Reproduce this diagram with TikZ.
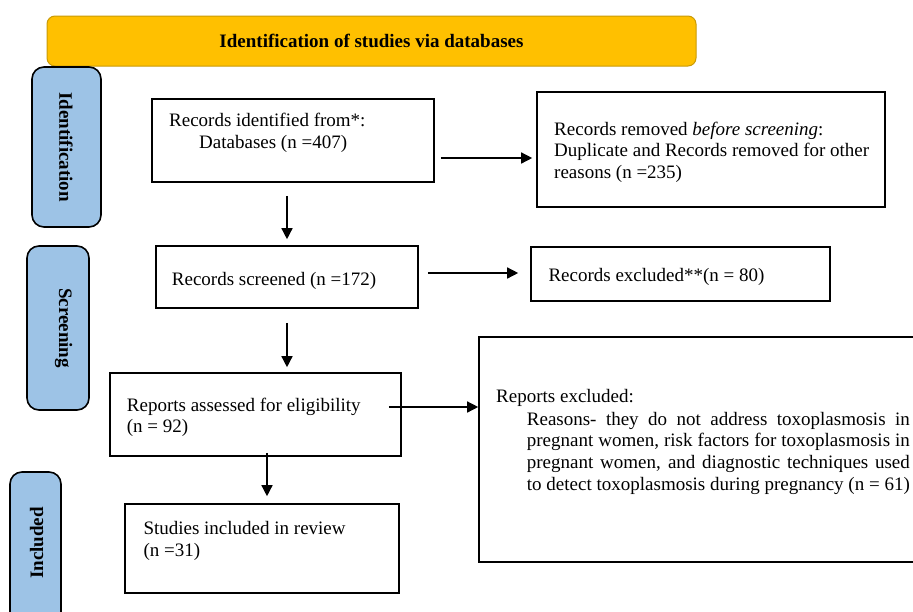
\documentclass[tikz,border=0pt]{standalone}
\usepackage{fontspec}
\setmainfont{Liberation Serif}
\usetikzlibrary{arrows.meta,calc}
\definecolor{gold}{HTML}{FFC000}
\definecolor{goldline}{HTML}{C99A06}
\definecolor{sideblue}{HTML}{9DC3E6}
\begin{document}
\begin{tikzpicture}[x=1pt,y=-1pt,
  font=\fontsize{19}{21.7}\selectfont,
  box/.style={draw=black, line width=1.6pt, fill=white, rectangle, inner sep=0pt},
  side/.style={draw=black, line width=1.6pt, fill=sideblue, rounded corners=12pt, inner sep=0pt},
  sidelbl/.style={inner sep=0pt, font=\fontsize{19}{21.7}\selectfont\bfseries},
  lbl/.style={inner sep=0pt, anchor=base west},
  arr/.style={line width=1.4pt, -{Triangle[length=11pt,width=11pt]}}
]
\useasboundingbox (0,0) rectangle (913,611);
\clip (0,0) rectangle (913,611);

% banner
\node[draw=goldline, line width=1pt, fill=gold, rounded corners=8pt, inner sep=0pt,
      minimum width=649pt, minimum height=50pt,
      font=\fontsize{19}{21.7}\selectfont\bfseries] (banner) at (371.5,41)
      {Identification of studies via databases};

% side tabs
\node[side, minimum width=69pt, minimum height=160pt] (sideI) at (66.5,147) {};
\node[sidelbl, rotate=-90] (sideIt) at (66,147) {Identification};
\node[side, minimum width=62pt, minimum height=164pt] (sideS) at (58,328) {};
\node[sidelbl, rotate=-90] (sideSt) at (63.5,328) {Screening};
\node[side, minimum width=51pt, minimum height=170pt] (sideN) at (35.5,557) {};
\node[sidelbl, rotate=90] (sideNt) at (36.7,543) {Included};

% boxes
\node[box, minimum width=282pt, minimum height=83pt] (b1) at (293,140.5) {};
\node[lbl] (b1t) at (169,126.7) {\parbox[t]{270pt}{Records identified from*:\\\hspace*{30pt}Databases (n =407)}};

\node[box, minimum width=348pt, minimum height=115pt] (rem) at (711,149.5) {};
\node[lbl] (remt) at (554,135) {\parbox[t]{330pt}{Records removed \textit{before screening}:\\Duplicate and Records removed for other\\reasons (n =235)}};

\node[box, minimum width=262pt, minimum height=62pt] (b2) at (287,277) {};
\node[lbl] (b2t) at (171.7,285.7) {Records screened (n =172)};

\node[box, minimum width=299pt, minimum height=54pt] (exc) at (680.5,274) {};
\node[lbl] (exct) at (548.3,281.7) {Records excluded**(n = 80)};

\node[box, minimum width=291pt, minimum height=83pt] (b3) at (255.5,414.5) {};
\node[lbl] (b3t) at (126.7,411) {\parbox[t]{270pt}{Reports assessed for eligibility\\(n = 92)}};

\node[box, minimum width=446pt, minimum height=225pt] (b4) at (702,449.5) {};
\node[lbl] (b4t) at (496,402.7) {\parbox[t]{420pt}{Reports excluded:\\[0.6pt]
\hspace*{30.7pt}\makebox[383pt][s]{Reasons- they do not address toxoplasmosis in}\\
\hspace*{30.7pt}\makebox[383pt][s]{pregnant women, risk factors for toxoplasmosis in}\\
\hspace*{30.7pt}\makebox[383pt][s]{pregnant women, and diagnostic techniques used}\\
\hspace*{30.7pt}\makebox[383pt][s]{to detect toxoplasmosis during pregnancy (n = 61)}}};

\node[box, minimum width=274pt, minimum height=89pt] (b5) at (262,548.5) {};
\node[lbl] (b5t) at (143.3,534.3) {\parbox[t]{250pt}{Studies included in review\\(n =31)}};

% arrows
\draw[arr, shorten <=13pt, shorten >=6pt] (b1.south -| b2.north) -- (b2.north);
\draw[arr, shorten <=6pt, shorten >=4pt] (b1.east |- 0,158) -- (rem.west |- 0,158);
\draw[arr, shorten <=9pt, shorten >=12pt] (b2.east |- 0,273) -- (exc.west |- 0,273);
\draw[arr, shorten <=14pt, shorten >=5pt] (b2.south) -- (b2.south |- b3.north);
\draw[arr, shorten <=-13pt] (b3.east |- 0,407) -- (b4.west |- 0,407);
\draw[arr, shorten <=-4pt, shorten >=7pt] ([xshift=5pt]b5.north |- b3.south) -- ([xshift=5pt]b5.north);
\end{tikzpicture}
\end{document}
